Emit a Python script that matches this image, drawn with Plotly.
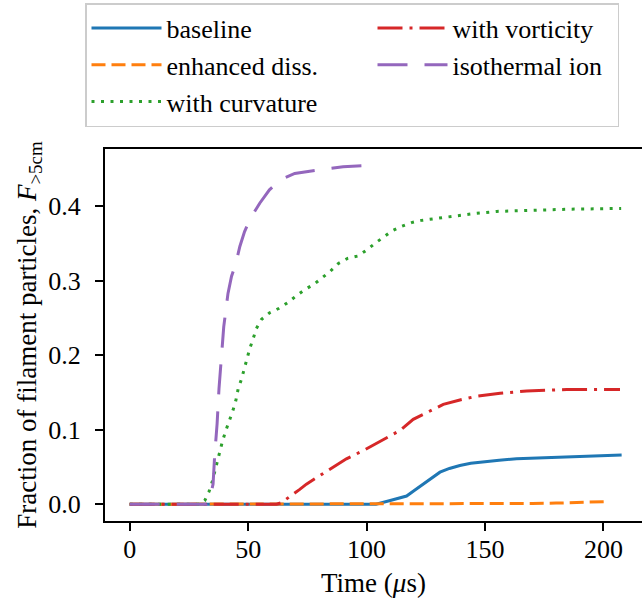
import plotly.graph_objects as go

# ---- data ----
t_base = [0, 20, 40, 60, 80, 100, 104, 110, 116.9, 120, 123.9, 127, 131, 135, 139.4, 144, 149.3, 156, 163.3, 172, 184.5, 196, 207.7]
v_base = [0, 0, 0, 0, 0, 0, 0, 0.005, 0.011, 0.018, 0.027, 0.035, 0.043, 0.048, 0.052, 0.055, 0.057, 0.059, 0.061, 0.062, 0.064, 0.065, 0.066]

t_enh = [0, 50, 100, 150, 160, 170, 180, 190, 200.7]
v_enh = [0, 0, 0, 0, 0.0005, 0.001, 0.0015, 0.0025, 0.0035]

t_curv = [0, 15, 30, 31.7, 33.5, 34.9, 35.9, 36.9, 38, 39.2, 40.6, 42.2, 43.6, 44.8, 45.8, 47.2, 48.3, 49.3,
          50.7, 52.1, 53.5, 55.6, 59.1, 63.1, 66.9, 70.4, 73.9, 77.7, 81.4, 84.8, 88, 92, 96.2, 100, 103.5,
          107.2, 110.8, 114.8, 119, 123.2, 127.7, 132.1, 136.6, 145, 155, 170, 185, 207.5]
v_curv = [0, 0, 0, 0.005, 0.017, 0.031, 0.043, 0.058, 0.072, 0.085, 0.099, 0.112, 0.126, 0.139, 0.155, 0.168, 0.182, 0.195,
          0.209, 0.222, 0.236, 0.248, 0.257, 0.263, 0.271, 0.280, 0.288, 0.295, 0.304, 0.313, 0.323, 0.330, 0.333, 0.341, 0.350,
          0.358, 0.367, 0.373, 0.378, 0.381, 0.383, 0.385, 0.387, 0.390, 0.393, 0.395, 0.396, 0.397]

t_vort = [0, 30, 62, 64, 67.6, 71.8, 74.6, 82.4, 91.5, 98.6, 106.3, 114.1, 119.7, 125.4, 132.4, 139.4, 146.5, 156.4, 167.6, 184.5, 207]
v_vort = [0, 0, 0, 0.002, 0.010, 0.020, 0.027, 0.043, 0.061, 0.072, 0.085, 0.099, 0.114, 0.123, 0.134, 0.140, 0.145, 0.149, 0.152, 0.154, 0.154]

t_iso = [0, 15, 30, 32.4, 34, 35.2, 35.9, 36.9, 37.7, 38.7, 39.7, 41.5, 43, 44.8, 46.5, 48.5, 51, 54.9, 59, 63.4,
         69.7, 76, 83.1, 90.1, 96, 103.5]
v_iso = [0, 0, 0, 0, 0.010, 0.027, 0.067, 0.108, 0.155, 0.195, 0.238, 0.283, 0.306, 0.323, 0.346, 0.366, 0.384, 0.404, 0.422, 0.435,
         0.444, 0.447, 0.450, 0.453, 0.454, 0.455]

names = ["baseline", "enhanced diss.", "with curvature", "with vorticity", "isothermal ion"]
colors = ["#1f77b4", "#ff7f0e", "#2ca02c", "#d62728", "#9467bd"]
dashes = ["solid", "14px,6px", "3px,6.5px", "25px,7px,3px,7px", "30px,17px"]
ranks = [1, 3, 5, 2, 4]
lwidths = [None, None, None, 160, 160]   # second legend column is narrower
series = [(t_base, v_base), (t_enh, v_enh), (t_curv, v_curv), (t_vort, v_vort), (t_iso, v_iso)]

FONT = "Liberation Serif, Times New Roman, Times, DejaVu Serif, serif"

fig = go.Figure()
for (t, v), n, c, d, r, lw in zip(series, names, colors, dashes, ranks, lwidths):
    fig.add_trace(go.Scatter(x=t, y=v, mode="lines", name=n, legendrank=r, legendwidth=lw,
                             line=dict(color=c, width=3, dash=d)))

W, H = 642, 598
L, R, T, B = 105, 642, 149, 521
pw, ph = R - L, B - T

fig.update_layout(
    width=W, height=H,
    margin=dict(l=L, r=W - R, t=T, b=H - B, autoexpand=False),
    plot_bgcolor="white", paper_bgcolor="white",
    font=dict(family=FONT, size=26, color="black"),
    showlegend=True,
    legend=dict(
        orientation="h",
        x=(85 - L) / pw, y=1 + (T - 3) / ph, xanchor="left", yanchor="top",
        entrywidth=201, entrywidthmode="pixels", itemwidth=70,
        bordercolor="#cccccc", borderwidth=1.5, bgcolor="white",
        font=dict(family=FONT, size=26),
    ),
    xaxis=dict(
        range=[-10.43, 216.3], tickvals=[0, 50, 100, 150, 200],
        showline=True, linecolor="black", linewidth=2, mirror=True,
        ticks="outside", ticklen=8, tickwidth=2, tickcolor="black",
        ticklabelstandoff=-4,
        showgrid=False, zeroline=False,
        title=dict(text="Time (<i>μ</i>s)", standoff=12, font=dict(size=27)),
    ),
    yaxis=dict(
        range=[-0.0225, 0.4768], tickvals=[0, 0.1, 0.2, 0.3, 0.4], tickformat=".1f",
        showline=True, linecolor="black", linewidth=2,
        ticks="outside", ticklen=8, tickwidth=2, tickcolor="black",
        ticklabelstandoff=9,
        showgrid=False, zeroline=False,
        title=dict(text="Fraction of filament particles, <i>F</i><sub>&gt;5cm</sub>", standoff=4,
                   font=dict(size=27)),
    ),
)

# remove the default 8px page margin so the figure fills the window exactly
fig.write_html("out.html", config={"displayModeBar": False},
               post_script="document.body.style.margin='0px';")
